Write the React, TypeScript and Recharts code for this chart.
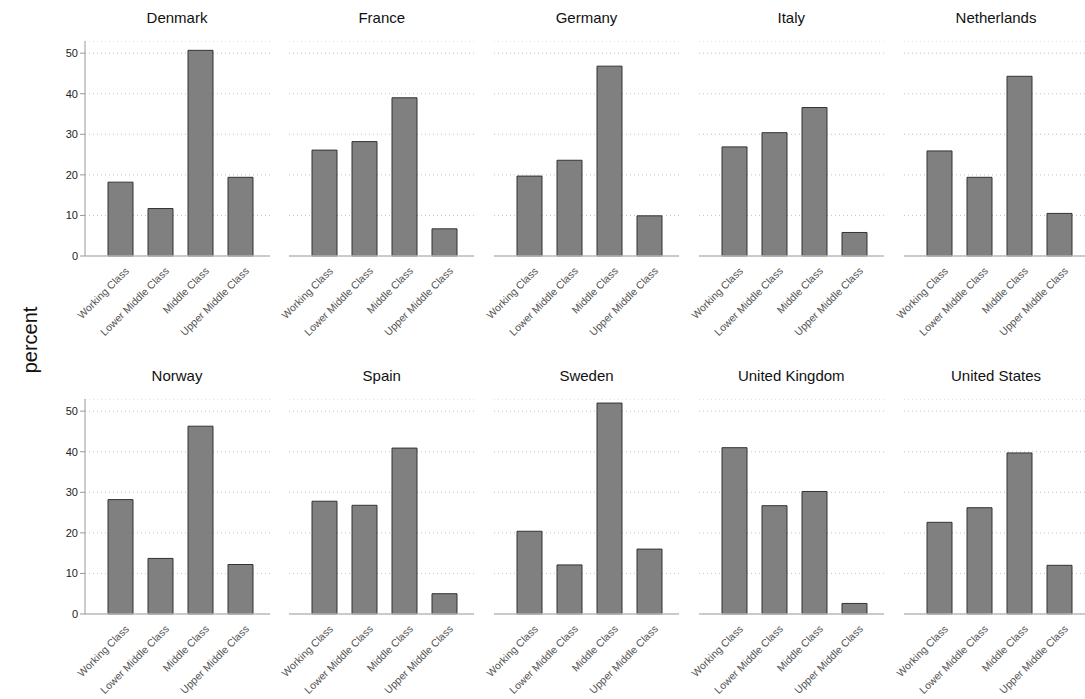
import React from 'react';
import { BarChart, Bar, XAxis, YAxis, CartesianGrid } from 'recharts';

const CLASSES = ['Working Class', 'Lower Middle Class', 'Middle Class', 'Upper Middle Class'];
const COUNTRIES = [
  'Denmark', 'France', 'Germany', 'Italy', 'Netherlands',
  'Norway', 'Spain', 'Sweden', 'United Kingdom', 'United States',
];
const Y_TICKS = [0, 10, 20, 30, 40, 50];

// percent per class, in the order of CLASSES
const denmark = [18.2, 11.7, 50.7, 19.4];
const france = [26.1, 28.2, 39.0, 6.7];
const germany = [19.7, 23.6, 46.8, 9.9];
const italy = [26.9, 30.4, 36.6, 5.8];
const netherlands = [25.9, 19.4, 44.3, 10.5];
const norway = [28.2, 13.7, 46.3, 12.2];
const spain = [27.8, 26.8, 40.9, 5.0];
const sweden = [20.4, 12.1, 52.0, 16.0];
const unitedKingdom = [41.0, 26.7, 30.2, 2.6];
const unitedStates = [22.6, 26.2, 39.7, 12.0];

const VALUES = [
  denmark, france, germany, italy, netherlands,
  norway, spain, sweden, unitedKingdom, unitedStates,
];

const FONT = '"Liberation Sans", Arial, Helvetica, sans-serif';
const PLOT_W = 185;
const PLOT_H = 215;
const X_AXIS_H = 82;
const Y_AXIS_W = 40;
const LEFT_ROOM = 50; // space left of the plot, so rotated labels are not cut
const COL_STEP = 204.75;
const FIRST_LEFT = 84.5;
const ROW_TOPS = [41, 399];

const ClassTick = (props: any) => {
  const { x, y, payload } = props;
  const ax = x + 4;
  const ay = y + 2;
  return (
    <text
      x={ax}
      y={ay}
      transform={`rotate(-45, ${ax}, ${ay})`}
      textAnchor="end"
      dominantBaseline="hanging"
      fontSize={10.5}
      fill="#555"
      fontFamily={FONT}
    >
      {payload.value}
    </text>
  );
};

const Panel = ({ index }: { index: number }) => {
  const col = index % 5;
  const row = Math.floor(index / 5);
  const showY = col === 0;
  const yw = showY ? Y_AXIS_W : 0;
  const plotLeft = FIRST_LEFT + COL_STEP * col;
  const plotTop = ROW_TOPS[row];
  const data = CLASSES.map((c, i) => ({ name: c, value: VALUES[index][i] }));

  return (
    <>
      <div
        style={{
          position: 'absolute',
          left: plotLeft,
          top: plotTop - 32,
          width: PLOT_W,
          textAlign: 'center',
          fontFamily: FONT,
          fontSize: 15,
          color: '#111',
        }}
      >
        {COUNTRIES[index]}
      </div>
      <div style={{ position: 'absolute', left: plotLeft - LEFT_ROOM, top: plotTop }}>
        <BarChart
          width={PLOT_W + LEFT_ROOM}
          height={PLOT_H + X_AXIS_H}
          data={data}
          margin={{ top: 0, right: 0, bottom: 0, left: LEFT_ROOM - yw }}
        >
          <CartesianGrid
            horizontal
            vertical={false}
            stroke="#c4c4c4"
            strokeDasharray="1 3"
          />
          <XAxis
            dataKey="name"
            height={X_AXIS_H}
            interval={0}
            padding={{ left: 15, right: 10 }}
            axisLine={{ stroke: '#bbb', strokeWidth: 1.5 }}
            tickLine={false}
            tick={<ClassTick />}
          />
          <YAxis
            hide={!showY}
            width={Y_AXIS_W}
            domain={[0, 53]}
            ticks={Y_TICKS}
            interval={0}
            axisLine={{ stroke: '#999' }}
            tickLine={{ stroke: '#999' }}
            tickSize={5}
            tick={{ fill: '#222', fontSize: 11, fontFamily: FONT }}
          />
          <Bar
            dataKey="value"
            barSize={25}
            fill="#808080"
            stroke="#333"
            strokeWidth={1}
            isAnimationActive={false}
          />
        </BarChart>
      </div>
    </>
  );
};

export default function App() {
  return (
    <div
      style={{
        position: 'absolute',
        left: 0,
        top: 0,
        width: 1085,
        height: 699,
        overflow: 'hidden',
        background: '#fff',
      }}
    >
      <div
        style={{
          position: 'absolute',
          left: 30 - 50,
          top: 340 - 13,
          width: 100,
          textAlign: 'center',
          transform: 'rotate(-90deg)',
          fontFamily: FONT,
          fontSize: 20,
          color: '#111',
          lineHeight: '26px',
        }}
      >
        percent
      </div>
      {COUNTRIES.map((c, i) => (
        <Panel key={c} index={i} />
      ))}
    </div>
  );
}
